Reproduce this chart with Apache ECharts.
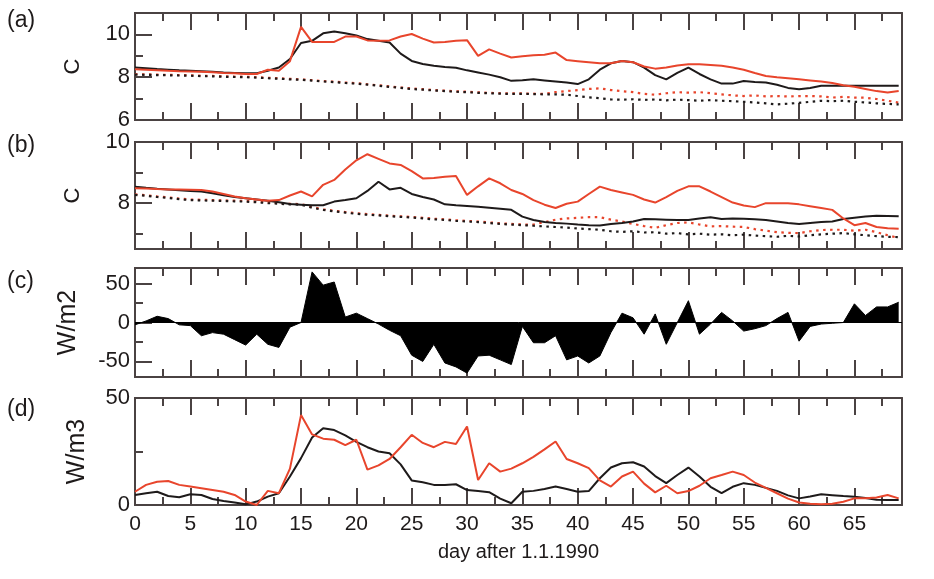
<!DOCTYPE html>
<html>
<head>
<meta charset="utf-8">
<script src="https://cdn.jsdelivr.net/npm/echarts@6/dist/echarts.min.js"></script>
<style>
html,body{margin:0;padding:0;background:#fff;}
#main{width:934px;height:579px;}
</style>
</head>
<body>
<div id="main"></div>
<script>
// one value per day, day 0 .. 69
var days = [0,1,2,3,4,5,6,7,8,9,10,11,12,13,14,15,16,17,18,19,20,21,22,23,24,25,26,27,28,29,
	30,31,32,33,34,35,36,37,38,39,40,41,42,43,44,45,46,47,48,49,50,51,52,53,54,55,56,57,58,59,
	60,61,62,63,64,65,66,67,68,69];

// (a) temperature, C
var redA = [8.37,8.35,8.33,8.3,8.28,8.27,8.25,8.23,8.2,8.18,
	8.15,8.15,8.35,8.3,8.75,10.35,9.65,9.65,9.65,9.9,
	9.9,9.72,9.7,9.72,9.9,10.02,9.8,9.62,9.65,9.7,
	9.73,9.0,9.3,9.1,8.92,8.98,9.03,9.05,9.15,8.8,
	8.75,8.7,8.65,8.65,8.76,8.7,8.5,8.4,8.45,8.55,
	8.6,8.6,8.57,8.53,8.45,8.35,8.2,8.06,8.0,7.95,
	7.9,7.85,7.8,7.73,7.62,7.55,7.45,7.35,7.28,7.35];
var blackA = [8.45,8.42,8.38,8.35,8.32,8.3,8.28,8.25,8.22,8.2,
	8.18,8.18,8.3,8.45,8.85,9.6,9.7,10.05,10.14,10.05,
	9.95,9.78,9.7,9.62,9.1,8.76,8.62,8.53,8.48,8.44,
	8.32,8.22,8.12,8.0,7.83,7.86,7.9,7.85,7.8,7.75,
	7.68,7.9,8.35,8.65,8.76,8.7,8.45,8.1,7.9,8.2,
	8.45,8.15,7.9,7.7,7.7,7.82,7.78,7.75,7.65,7.5,
	7.44,7.5,7.6,7.6,7.6,7.6,7.6,7.6,7.6,7.6];
var redDotA = [8.14,8.13,8.12,8.11,8.1,8.09,8.07,8.06,8.04,8.03,
	8.02,8.0,7.97,7.95,7.92,7.9,7.86,7.82,7.79,7.75,
	7.72,7.67,7.62,7.57,7.52,7.47,7.44,7.4,7.37,7.34,
	7.32,7.29,7.27,7.25,7.24,7.24,7.23,7.22,7.3,7.35,
	7.4,7.45,7.48,7.4,7.35,7.3,7.22,7.18,7.25,7.3,
	7.28,7.3,7.25,7.2,7.15,7.12,7.15,7.1,7.12,7.1,
	7.12,7.12,7.1,7.05,7.08,7.05,7.04,6.98,6.9,6.81];
var blackDotA = [8.12,8.11,8.1,8.09,8.08,8.07,8.05,8.04,8.02,8.01,
	8.0,7.98,7.95,7.93,7.9,7.88,7.84,7.8,7.77,7.73,
	7.7,7.65,7.6,7.55,7.5,7.45,7.42,7.38,7.35,7.32,
	7.3,7.27,7.25,7.23,7.22,7.22,7.21,7.2,7.2,7.18,
	7.12,7.06,7.02,6.96,6.95,6.97,6.94,6.96,6.92,6.95,
	6.93,6.9,6.93,6.9,6.88,6.85,6.82,6.78,6.73,6.76,
	6.8,6.85,6.9,6.88,6.9,6.85,6.82,6.78,6.75,6.73];

// (b) temperature, C
var redB = [8.49,8.48,8.46,8.45,8.45,8.44,8.43,8.38,8.3,8.22,
	8.16,8.12,8.08,8.1,8.25,8.38,8.22,8.6,8.76,9.1,
	9.4,9.6,9.45,9.3,9.25,9.05,8.81,8.82,8.86,8.89,
	8.27,8.55,8.81,8.65,8.43,8.3,8.1,7.95,7.84,7.98,
	8.05,8.3,8.54,8.43,8.35,8.27,8.12,8.02,8.2,8.4,
	8.55,8.55,8.38,8.2,8.02,7.92,7.87,8.0,8.0,8.0,
	7.96,7.9,7.84,7.78,7.5,7.28,7.35,7.22,7.18,7.16];
var blackB = [8.54,8.5,8.47,8.45,8.42,8.4,8.38,8.32,8.26,8.2,
	8.16,8.12,8.08,8.03,7.97,7.95,7.93,7.93,8.05,8.1,
	8.16,8.4,8.7,8.45,8.5,8.3,8.2,8.12,7.96,7.93,
	7.91,7.88,7.85,7.82,7.78,7.56,7.45,7.38,7.35,7.33,
	7.3,7.28,7.27,7.32,7.35,7.4,7.48,7.47,7.46,7.45,
	7.45,7.5,7.54,7.48,7.5,7.49,7.47,7.45,7.4,7.35,
	7.32,7.35,7.38,7.4,7.48,7.52,7.56,7.59,7.58,7.57];
var redDotB = [8.29,8.26,8.22,8.19,8.15,8.12,8.11,8.1,8.09,8.08,
	8.07,8.05,8.02,8.0,7.98,7.97,7.87,7.8,7.75,7.71,
	7.67,7.64,7.62,7.59,7.57,7.55,7.52,7.49,7.47,7.44,
	7.42,7.4,7.37,7.34,7.32,7.3,7.3,7.38,7.46,7.5,
	7.52,7.54,7.54,7.46,7.4,7.32,7.25,7.19,7.28,7.35,
	7.37,7.3,7.24,7.25,7.23,7.22,7.15,7.1,7.05,7.03,
	7.02,7.08,7.12,7.13,7.13,7.1,7.13,7.05,6.95,6.86];
var blackDotB = [8.27,8.24,8.2,8.17,8.13,8.1,8.09,8.08,8.07,8.06,
	8.05,8.03,8.0,7.98,7.96,7.95,7.85,7.78,7.73,7.69,
	7.65,7.62,7.6,7.57,7.55,7.53,7.5,7.47,7.45,7.42,
	7.4,7.38,7.35,7.32,7.3,7.28,7.26,7.24,7.22,7.2,
	7.17,7.15,7.13,7.08,7.06,7.08,7.04,7.05,7.0,7.02,
	6.98,7.0,6.97,6.98,6.95,6.97,6.94,6.92,6.9,6.93,
	6.91,6.95,6.98,7.0,7.02,6.98,6.95,6.92,6.9,6.89];

// (c) heat flux, W/m2
var fluxC = [-3,2,8,5,-3,-4,-17,-13,-15,-22,
	-29,-15,-28,-32,-6,0,65,48,52,7,
	12,5,-2,-10,-17,-42,-50,-28,-52,-57,
	-65,-43,-42,-48,-54,-5,-26,-26,-17,-48,
	-43,-52,-43,-13,12,6,-15,11,-28,0,
	28,-15,-2,13,2,-11,-8,-4,5,13,
	-24,-5,-2,-1,0,24,9,20,20,26];

// (d) W/m3
var redD = [6.2,9.4,10.9,11.2,9.4,8.6,7.8,7.0,6.2,4.7,
	1.6,0,6.6,5.5,17,42,33,31,30.5,28,
	30.5,16.5,18.5,21.5,27,32.8,29,27,29.5,28.5,
	36.7,11.7,19.5,15.6,17,19.5,22.5,26,29.7,21.5,
	19.5,17.2,11.5,8.6,13.3,15.6,10,5.9,9,5.5,
	6.5,9,12.5,14,15.6,14,10.5,8,5.5,3,
	1.2,0.6,0.3,0.6,1.5,3.1,3.1,3.5,4.7,3.1];
var blackD = [4.7,5.5,6.2,4.2,3.6,5,4.7,2.8,1.9,1.2,
	0.3,1.6,3.9,5.5,13.3,21.9,31.5,35.9,35,32.5,
	29.5,27,25,24.2,19,11.5,10.6,9.4,9.4,9.7,
	7.0,6.5,6.0,3,0.8,6.2,6.6,7.5,8.6,7.5,
	6.2,6.5,12.5,17.5,19.5,20,18,13.5,10.2,14,
	17.5,13.3,8.5,5.5,8.5,10.2,9.4,8,6.6,4.5,
	3.1,4,5,4.6,4.2,3.9,3.3,2.5,2.3,2.3];

// ticks and labels
var xStep = 5, xMax = 69.3;
var xLabels = [0,5,10,15,20,25,30,35,40,45,50,55,60,65];
var yMajor = [[6,8,10],[8,10],[-50,0,50],[0,50]];
var yMinor = [[7,9],[7,9],[-25,25],[25]];
var yRange = [[6,11],[6.5,10],[-70,70],[0,50]];
var panelNames = ['(a)','(b)','(c)','(d)'];
var unitNames = ['C','C','W/m2','W/m3'];

var RED = '#e8452c', BLACK = '#1e1a1a', FRAME = '#4a4242';
var FONT = 'Liberation Sans';
var panels = [
	{top:13, height:107},
	{top:142, height:107},
	{top:268, height:109},
	{top:398, height:107}
];
var unitSize = [22, 22, 25, 25];
var unitGap = [51, 51, 54, 45];
var letterTop = [9, 134, 270, 398];

function pairs(arr){
	var out = [];
	for(var i=0;i<arr.length;i++) out.push([days[i],arr[i]]);
	return out;
}

var frameLine = {show:true, onZero:false, lineStyle:{color:FRAME, width:2}};
var xAxis = [], yAxis = [], grid = [], title = [];

// bottom axis lives in the data grid, top axis in a twin grid on the same rect
function makeX(gi, g, pos){
	var ax = {gridIndex:gi, type:'value', position:pos, min:0, max:xMax, interval:xStep,
		axisLine:frameLine, splitLine:{show:false},
		axisTick:{show:true, inside:true, length:17, lineStyle:{color:FRAME, width:2}},
		minorTick:{show:true, splitNumber:2, length:8, lineStyle:{color:FRAME, width:2}},
		axisLabel:{show: g===3 && pos==='bottom', customValues:xLabels,
			margin:9, fontSize:21, fontFamily:FONT, color:BLACK}};
	if(g===3 && pos==='bottom'){
		ax.name = 'day after 1.1.1990';
		ax.nameLocation = 'middle';
		ax.nameGap = 37;
		ax.nameTextStyle = {fontSize:20, fontFamily:FONT, color:BLACK};
	}
	return ax;
}
function makeY(gi, g, pos, ticks, len){
	var ax = {gridIndex:gi, type:'value', position:pos, min:yRange[g][0], max:yRange[g][1],
		axisLine:frameLine, splitLine:{show:false},
		axisTick:{show:pos==='left', inside:true, length:len, customValues:ticks,
			lineStyle:{color:FRAME, width:2}},
		axisLabel:{show:len===17 && pos==='left', customValues:yMajor[g],
			margin:5, fontSize:22, fontFamily:FONT, color:BLACK}};
	if(len===17 && pos==='left'){
		ax.name = unitNames[g];
		ax.nameLocation = 'middle';
		ax.nameRotate = 90;
		ax.nameGap = unitGap[g];
		ax.nameTextStyle = {fontSize:unitSize[g], fontFamily:FONT, color:BLACK};
	}
	return ax;
}

for(var g=0;g<4;g++){
	var rect = {left:135, right:32, top:panels[g].top, height:panels[g].height};
	grid.push(rect);
	grid.push({left:135, right:32, top:panels[g].top, height:panels[g].height});
	xAxis.push(makeX(2*g, g, 'bottom'));
	xAxis.push(makeX(2*g+1, g, 'top'));
	yAxis.push(makeY(2*g, g, 'left', yMajor[g], 17));
	yAxis.push(makeY(2*g, g, 'left', yMinor[g], 8));
	yAxis.push(makeY(2*g+1, g, 'right', yMajor[g], 17));
	title.push({text:panelNames[g], left:7, top:letterTop[g], padding:0,
		textStyle:{fontSize:23, fontWeight:'normal', fontFamily:FONT, color:BLACK}});
}

function line(g, arr, color, dotted){
	return {
		type:'line', xAxisIndex:g*2, yAxisIndex:g*3, data:pairs(arr),
		showSymbol:false, silent:true,
		lineStyle: dotted ? {color:color, width:2.2, type:[2.5,4.5]} : {color:color, width:2}
	};
}

var series = [
	line(0, redDotA, RED, true), line(0, blackDotA, BLACK, true),
	line(0, blackA, BLACK), line(0, redA, RED),
	line(1, redDotB, RED, true), line(1, blackDotB, BLACK, true),
	line(1, blackB, BLACK), line(1, redB, RED),
	{
		type:'line', xAxisIndex:4, yAxisIndex:6, data:pairs(fluxC),
		showSymbol:false, silent:true,
		lineStyle:{color:'#000', width:1},
		areaStyle:{color:'#000', opacity:1},
		markLine:{silent:true, symbol:'none', label:{show:false},
			lineStyle:{color:'#000', width:1, type:'solid'}, data:[{yAxis:0}]}
	},
	line(3, blackD, BLACK), line(3, redD, RED)
];

var chart = echarts.init(document.getElementById('main'));
chart.setOption({
	animation:false,
	title:title,
	grid:grid,
	xAxis:xAxis,
	yAxis:yAxis,
	series:series
});
</script>
</body>
</html>
